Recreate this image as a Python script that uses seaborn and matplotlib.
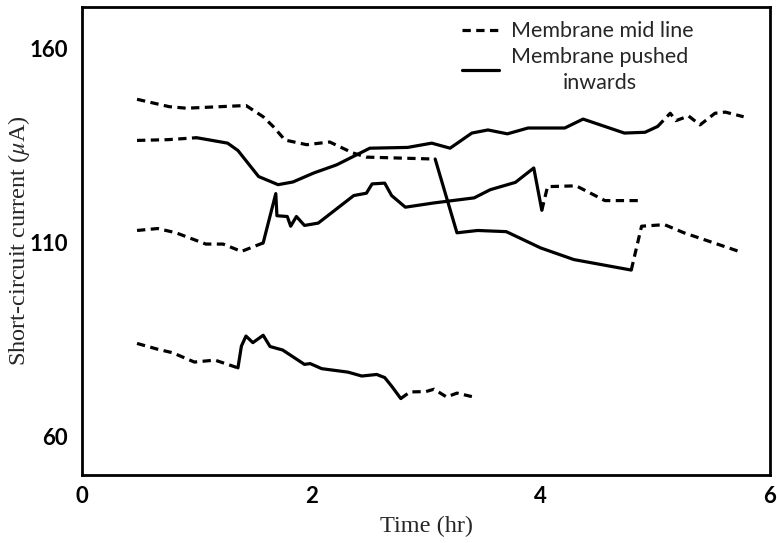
import matplotlib
matplotlib.use("Agg")
import matplotlib.pyplot as plt
from matplotlib.lines import Line2D
import seaborn as sns
import pandas as pd

# ---- data ----
a_mid1_x = [0.48, 0.76, 0.91, 1.43, 1.58, 1.67, 1.77, 1.96, 2.16, 2.36, 2.48, 3.08]
a_mid1_y = [146.8, 144.9, 144.5, 145.2, 142.3, 139.7, 136.3, 135.1, 135.8, 133.0, 131.9, 131.4]
a_push_x = [3.08, 3.27, 3.45, 3.70, 4.00, 4.29, 4.79]
a_push_y = [131.4, 112.4, 113.0, 112.7, 108.5, 105.5, 102.8]
a_mid2_x = [4.79, 4.88, 5.08, 5.25, 5.75]
a_mid2_y = [102.8, 114.1, 114.5, 112.4, 107.4]

b_mid1_x = [0.48, 0.75, 1.00]
b_mid1_y = [136.2, 136.4, 136.9]
b_push_x = [1.00, 1.27, 1.36, 1.54, 1.71, 1.84, 2.02, 2.22, 2.51, 2.84, 3.05, 3.21,
            3.40, 3.54, 3.71, 3.89, 4.21, 4.37, 4.73, 4.91, 5.02]
b_push_y = [136.9, 135.5, 133.6, 126.9, 124.8, 125.5, 127.8, 129.9, 134.2, 134.4, 135.5, 134.2,
            138.1, 138.9, 137.9, 139.4, 139.4, 141.7, 138.1, 138.3, 139.8]
b_mid2_x = [5.02, 5.13, 5.18, 5.29, 5.39, 5.52, 5.61, 5.77]
b_mid2_y = [139.8, 143.2, 141.3, 142.5, 140.2, 143.2, 143.5, 142.3]

c_mid1_x = [0.48, 0.66, 0.82, 1.08, 1.23, 1.39, 1.58]
c_mid1_y = [113.0, 113.5, 112.4, 109.5, 109.5, 107.6, 109.8]
c_push_x = [1.58, 1.69, 1.70, 1.79, 1.82, 1.87, 1.94, 2.06, 2.37, 2.48, 2.53, 2.64, 2.70,
            2.82, 3.07, 3.42, 3.56, 3.78, 3.94, 4.01]
c_push_y = [109.8, 122.5, 116.8, 116.6, 114.1, 116.6, 114.3, 114.9, 122.0, 122.6, 125.0, 125.2, 122.0,
            119.0, 120.1, 121.4, 123.5, 125.4, 129.1, 118.2]
c_mid2_x = [4.01, 4.06, 4.31, 4.56, 4.88]
c_mid2_y = [118.2, 124.3, 124.5, 120.7, 120.7]

d_mid1_x = [0.48, 0.66, 0.79, 0.98, 1.16, 1.36]
d_mid1_y = [83.9, 82.4, 81.5, 79.1, 79.6, 77.6]
d_push_x = [1.36, 1.39, 1.43, 1.49, 1.58, 1.64, 1.75, 1.94, 1.99, 2.09, 2.32, 2.44, 2.57,
            2.64, 2.70, 2.78]
d_push_y = [77.6, 83.2, 85.8, 84.1, 86.0, 83.1, 82.2, 78.5, 78.7, 77.4, 76.5, 75.5, 75.9,
            75.1, 72.9, 69.7]
d_mid2_x = [2.78, 2.86, 3.00, 3.07, 3.18, 3.27, 3.40]
d_mid2_y = [69.7, 71.4, 71.5, 72.1, 70.1, 71.1, 70.2]

legend_labels = ["Membrane mid line", "Membrane pushed\ninwards"]
x_ticks = [0, 1, 2, 3, 4, 5, 6]
x_ticklabels = ["0", "", "2", "", "4", "", "6"]
y_ticks = [60, 70, 80, 90, 100, 110, 120, 130, 140, 150, 160]
y_ticklabels = ["60", "", "", "", "", "110", "", "", "", "", "160"]

segments = [
    ("a1", "mid", a_mid1_x, a_mid1_y), ("a2", "push", a_push_x, a_push_y), ("a3", "mid", a_mid2_x, a_mid2_y),
    ("b1", "mid", b_mid1_x, b_mid1_y), ("b2", "push", b_push_x, b_push_y), ("b3", "mid", b_mid2_x, b_mid2_y),
    ("c1", "mid", c_mid1_x, c_mid1_y), ("c2", "push", c_push_x, c_push_y), ("c3", "mid", c_mid2_x, c_mid2_y),
    ("d1", "mid", d_mid1_x, d_mid1_y), ("d2", "push", d_push_x, d_push_y), ("d3", "mid", d_mid2_x, d_mid2_y),
]
rows = []
for seg, kind, xs, ys in segments:
    for i, (xv, yv) in enumerate(zip(xs, ys)):
        rows.append({"seg": seg, "kind": kind, "order": i, "x": xv, "y": yv})
df = pd.DataFrame(rows)

# ---- style ----
sns.set_style("white")
plt.rcParams["mathtext.fontset"] = "stix"
plt.rcParams["font.family"] = ["Lato", "DejaVu Sans"]

fig = plt.figure(figsize=(7.77, 5.43), dpi=100)
ax = fig.add_axes([82 / 777, 1 - 475 / 543, 688 / 777, (475 - 7.3) / 543])

LW = 2.3
DASH = (2.6, 1.7)
sns.lineplot(data=df, x="x", y="y", units="seg", style="kind", estimator=None, sort=False,
             dashes={"mid": DASH, "push": ""}, color="black", linewidth=LW, legend=False, ax=ax)

ax.set_xlim(0, 6)
ax.set_ylim(50, 170.5)
ax.set_xticks(x_ticks)
ax.set_xticklabels(x_ticklabels)
ax.set_yticks(y_ticks)
ax.set_yticklabels(y_ticklabels)
ax.tick_params(axis="both", direction="in", length=9, width=2, color="black",
               labelsize=16, labelcolor="black")
ax.tick_params(axis="x", pad=8)
ax.tick_params(axis="y", pad=10)
for lab in ax.get_xticklabels() + ax.get_yticklabels():
    lab.set_fontweight("bold")
for sp in ax.spines.values():
    sp.set_visible(True)
    sp.set_linewidth(2)
    sp.set_color("black")

ax.set_xlabel("Time (hr)", fontfamily="Liberation Serif", fontsize=17.5, labelpad=6)
ax.set_ylabel(r"Short-circuit current ($\mu$A)", fontfamily="Liberation Serif", fontsize=17.5, labelpad=-2)

handles = [Line2D([], [], color="black", lw=LW, dashes=DASH),
           Line2D([], [], color="black", lw=LW)]
leg = ax.legend(handles, legend_labels, loc="upper left", bbox_to_anchor=(0.552, 0.97),
                frameon=False, fontsize=15.5, handlelength=1.75, handletextpad=0.55,
                borderpad=0, borderaxespad=0, labelspacing=0.25)
for t in leg.get_texts():
    t.set_multialignment("center")
    t.set_linespacing(1.4)

fig.savefig("out.png", dpi=100)
